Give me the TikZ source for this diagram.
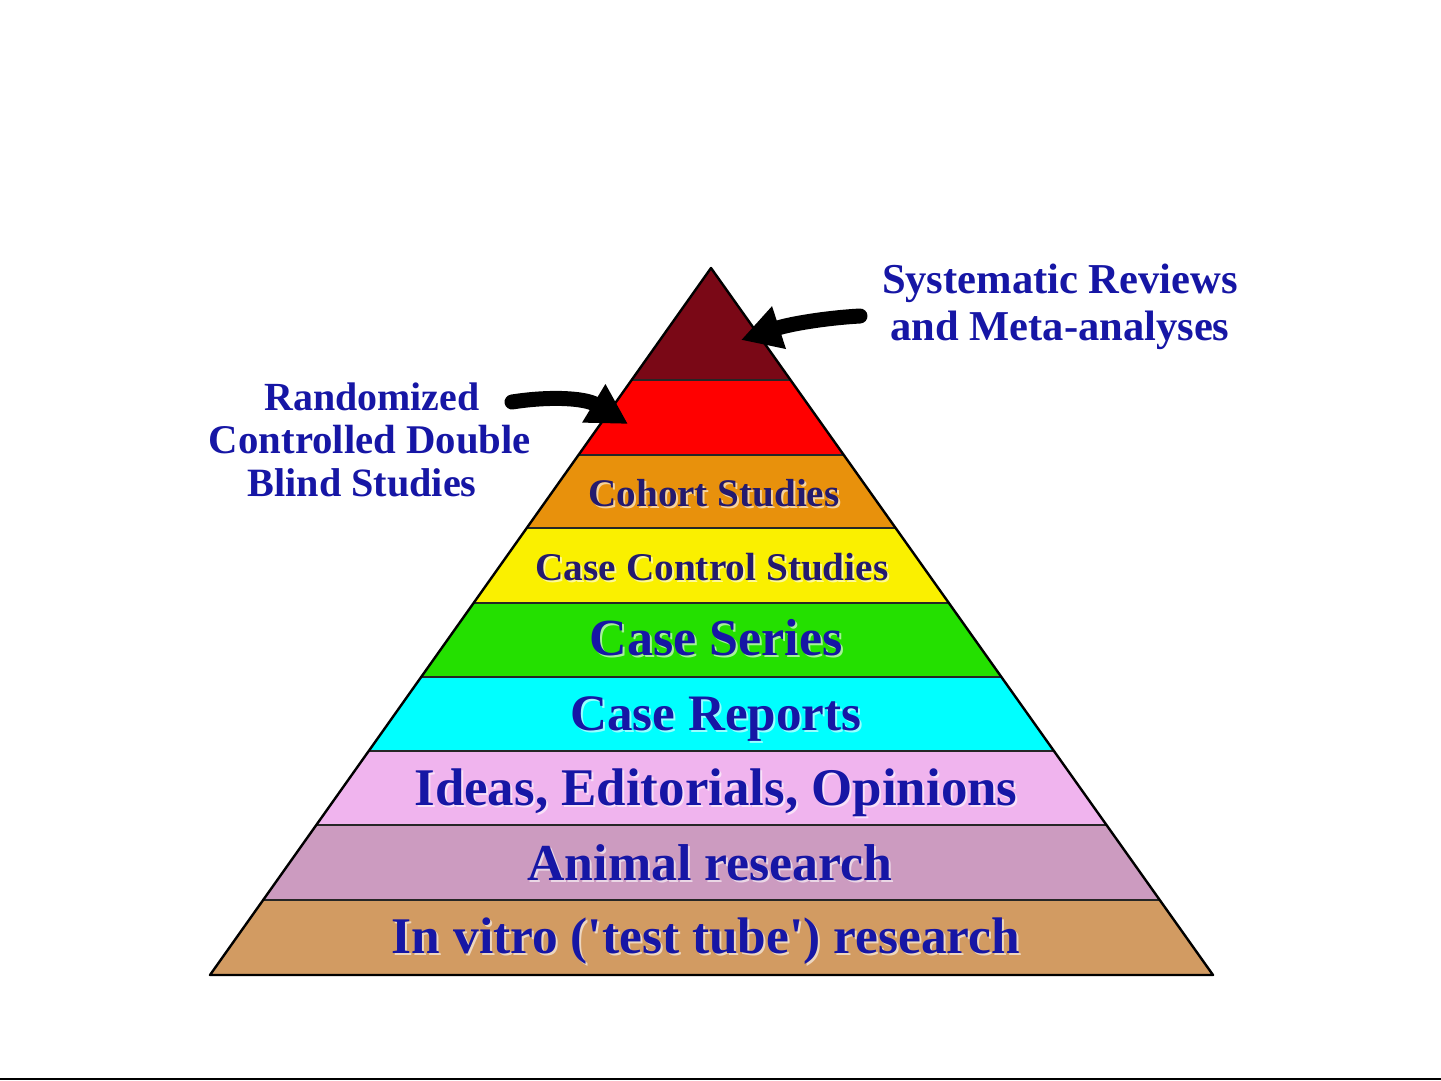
\documentclass[tikz,border=0pt]{standalone}
\usepackage{fontspec}
\newfontfamily\lblfont{Liberation Serif}
\usetikzlibrary{arrows.meta}
\definecolor{cA}{RGB}{122,8,22}
\definecolor{cB}{RGB}{255,0,0}
\definecolor{cC}{RGB}{232,145,12}
\definecolor{cD}{RGB}{250,240,0}
\definecolor{cE}{RGB}{36,224,0}
\definecolor{cF}{RGB}{0,255,255}
\definecolor{cG}{RGB}{240,180,238}
\definecolor{cH}{RGB}{204,155,192}
\definecolor{cI}{RGB}{210,155,98}
\definecolor{txtblue}{RGB}{22,22,165}
\definecolor{txtdark}{RGB}{36,26,110}
\newcommand\fitw[2]{\resizebox{#1pt}{!}{#2}}
\tikzset{
  lbl/.style={inner sep=0pt, anchor=base, font=\lblfont\bfseries\fontsize{40}{44}\selectfont},
  glow/.style={lbl, text=white, opacity=0.6},
  bandline/.style={line width=1.5pt, draw=black!85},
  pointer/.style={line width=15pt, line cap=round, draw=black,
    -{Triangle[length=40pt,width=42pt]}}
}
\newcommand\bandtext[6]{%
  \node[glow] (#1g) at ({#2+2},{#3+2}) {\fitw{#4}{#5}};
  \node[lbl, text=#6] (#1) at (#2,#3) {\fitw{#4}{#5}};}
\begin{document}
\begin{tikzpicture}[x=1pt,y=-1pt]
\useasboundingbox (0,0) rectangle (1441,1081);
\fill[white] (0,0) rectangle (1441,1081);
% bands
\foreach \ya/\yb/\c in {268/380/cA,380/455/cB,455/528/cC,528/603/cD,603/677/cE,677/751/cF,751/825/cG,825/900/cH,900/975/cI}{
  \fill[\c] ({711-(\ya-268)*0.70863},\ya) -- ({711+(\ya-268)*0.71004},\ya)
     -- ({711+(\yb-268)*0.71004},\yb) -- ({711-(\yb-268)*0.70863},\yb) -- cycle;
}
\foreach \y in {380,455,528,603,677,751,825,900}{
  \draw[bandline] ({711-(\y-268)*0.70863},\y) -- ({711+(\y-268)*0.71004},\y);
}
\coordinate (apex) at (711,268);
\coordinate (bl) at (210,975);
\coordinate (br) at (1213,975);
\draw[line width=2.4pt, line join=round] (apex) -- (br) -- (bl) -- cycle;
% texts in bands
\bandtext{t1}{714}{506}{251}{Cohort Studies}{txtdark}
\bandtext{t2}{712}{580}{353}{Case Control Studies}{txtdark}
\bandtext{t3}{716}{655}{253}{Case Series}{txtblue}
\bandtext{t4}{716}{730}{291}{Case Reports}{txtblue}
\bandtext{t5}{716}{805}{603}{Ideas, Editorials, Opinions}{txtblue}
\bandtext{t6}{710}{880}{365}{Animal research}{txtblue}
\bandtext{t7}{706}{953}{628}{In vitro ('test tube') research}{txtblue}
% outside labels
\node[lbl, text=txtblue] (sr1) at (1060,293) {\fitw{356}{Systematic Reviews}};
\node[lbl, text=txtblue] (sr2) at (1060,340) {\fitw{339}{and Meta-analyses}};
\node[lbl, text=txtblue] (rc1) at (372,410) {\fitw{215}{Randomized}};
\node[lbl, text=txtblue] (rc2) at (370,453) {\fitw{322}{Controlled Double}};
\node[lbl, text=txtblue] (rc3) at (362,496) {\fitw{229}{Blind Studies}};
% arrows
\coordinate (rtail) at (860,316);
\coordinate (rhead) at (741,340);
\draw[pointer] (rtail) .. controls (825,318) and (790,324) .. (rhead);
\coordinate (ltail) at (512,402);
\coordinate (lhead) at (628,424);
\draw[pointer] (ltail) .. controls (550,396) and (585,398) .. (lhead);
% bottom rule
\coordinate (b0) at (0,1079);
\coordinate (b1) at (1441,1079);
\draw[line width=2.6pt] (b0) -- (b1);
\end{tikzpicture}
\end{document}
